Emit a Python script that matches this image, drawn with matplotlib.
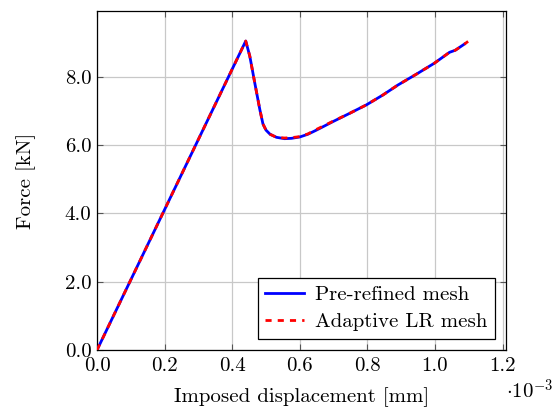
import matplotlib
matplotlib.use("Agg")
import matplotlib.pyplot as plt
from matplotlib.ticker import FuncFormatter, FixedLocator

# Data (displacement in mm, force in kN)
disp_pre = [0.0, 0.440e-3, 0.452e-3, 0.467e-3, 0.482e-3, 0.491e-3, 0.500e-3, 0.512e-3,
            0.531e-3, 0.555e-3, 0.575e-3, 0.600e-3, 0.624e-3, 0.649e-3, 0.698e-3,
            0.747e-3, 0.797e-3, 0.846e-3, 0.890e-3, 0.945e-3, 0.998e-3, 1.043e-3,
            1.060e-3, 1.087e-3]
force_pre = [0.0, 9.05, 8.61, 7.81, 7.03, 6.62, 6.44, 6.32,
             6.23, 6.19, 6.20, 6.24, 6.32, 6.44, 6.69,
             6.93, 7.18, 7.47, 7.76, 8.08, 8.40, 8.72,
             8.78, 8.96]

disp_ad = [0.0, 0.440e-3, 0.452e-3, 0.467e-3, 0.482e-3, 0.491e-3, 0.500e-3, 0.512e-3,
           0.531e-3, 0.555e-3, 0.575e-3, 0.600e-3, 0.624e-3, 0.649e-3, 0.698e-3,
           0.747e-3, 0.797e-3, 0.846e-3, 0.890e-3, 0.945e-3, 0.998e-3, 1.043e-3,
           1.060e-3, 1.087e-3, 1.098e-3]
force_ad = [0.0, 9.05, 8.61, 7.81, 7.03, 6.62, 6.44, 6.32,
            6.23, 6.21, 6.22, 6.25, 6.33, 6.46, 6.70,
            6.93, 7.18, 7.47, 7.76, 8.08, 8.40, 8.72,
            8.78, 8.96, 9.04]

xticks = [0.0, 0.2e-3, 0.4e-3, 0.6e-3, 0.8e-3, 1.0e-3, 1.2e-3]
yticks = [0.0, 2.0, 4.0, 6.0, 8.0]

plt.rcParams['font.family'] = ['cmr10', 'DejaVu Serif']
plt.rcParams['mathtext.fontset'] = 'cm'
plt.rcParams['axes.unicode_minus'] = False

FS = 15

fig = plt.figure(figsize=(5.56, 4.15), dpi=100)
ax = fig.add_axes([0.1745, 0.1566, 0.7355, 0.8169])

ax.plot(disp_pre, force_pre, color='blue', lw=2.0, solid_joinstyle='round',
        label='Pre-refined mesh', zorder=3)
ax.plot(disp_ad, force_ad, color='red', lw=2.0, ls=(0, (2.2, 2.2)),
        label='Adaptive LR mesh', zorder=4)

ax.set_xlim(0, 1.21e-3)
ax.set_ylim(0, 9.93)
ax.xaxis.set_major_locator(FixedLocator(xticks))
ax.yaxis.set_major_locator(FixedLocator(yticks))
ax.xaxis.set_major_formatter(FuncFormatter(lambda v, p: f"{v*1e3:.1f}"))
ax.yaxis.set_major_formatter(FuncFormatter(lambda v, p: f"{v:.1f}"))

ax.grid(True, color='#c8c8c8', lw=0.9, zorder=0)
ax.set_axisbelow(True)
ax.tick_params(direction='in', top=True, right=True, length=4, width=0.8,
               color='#555555', labelsize=FS)
ax.tick_params(axis='x', pad=5)
ax.tick_params(axis='y', pad=4)
for s in ax.spines.values():
    s.set_linewidth(0.9)
    s.set_color('black')

ax.set_xlabel('Imposed displacement [mm]', fontsize=FS, labelpad=9)
ax.set_ylabel('Force [kN]', fontsize=FS, labelpad=21)

ax.text(1.0, -0.12, r'$\cdot10^{-3}$', transform=ax.transAxes, fontsize=FS,
        ha='left', va='center')

leg = ax.legend(loc='lower right', fontsize=FS, frameon=True, fancybox=False,
                edgecolor='black', framealpha=1.0, borderpad=0.35,
                handlelength=1.9, handletextpad=0.5, labelspacing=0.4,
                borderaxespad=0.55)
leg.get_frame().set_linewidth(0.9)

fig.savefig('out.png', dpi=100)
